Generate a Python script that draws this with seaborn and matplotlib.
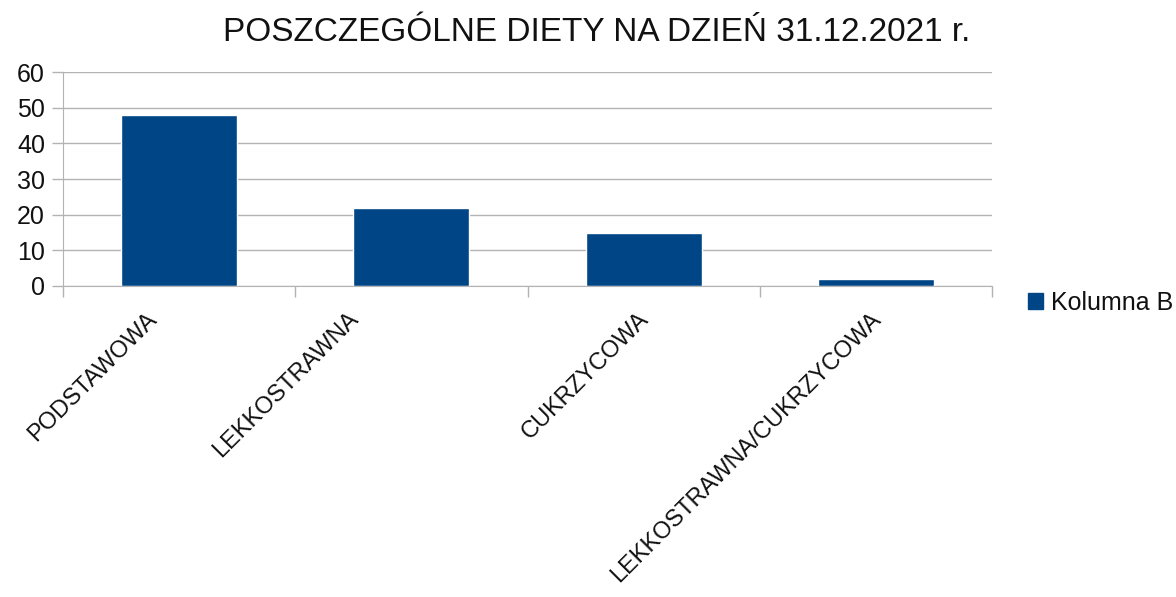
import matplotlib
matplotlib.use("Agg")
import matplotlib.pyplot as plt
import matplotlib.patches as mpatches
import matplotlib.transforms as mtransforms
import seaborn as sns
import pandas as pd

# chart data
categories = ["PODSTAWOWA", "LEKKOSTRAWNA", "CUKRZYCOWA", "LEKKOSTRAWNA/CUKRZYCOWA"]
values = [48, 22, 15, 2]
series_name = "Kolumna B"
title = "POSZCZEGÓLNE DIETY NA DZIEŃ 31.12.2021 r."

bar_color = "#004586"
grid_color = "#b3b3b3"
text_color = "#111111"

sns.set_style("white")
plt.rcParams['font.family'] = ['Liberation Sans', 'DejaVu Sans']

df = pd.DataFrame({"dieta": categories, "liczba": values})

fig = plt.figure(figsize=(11.76, 5.97), dpi=100)
ax = fig.add_axes([0.0536, 0.521, 0.79, 0.358])

sns.barplot(data=df, x="dieta", y="liczba", color=bar_color, width=0.5,
            saturation=1, ax=ax)

ax.set_xlim(-0.5, len(categories) - 0.5)
ax.set_ylim(0, 60)
ax.set_yticks(range(0, 61, 10))
ax.yaxis.grid(True, color=grid_color, linewidth=1)
ax.set_axisbelow(True)
ax.set_xlabel("")
ax.set_ylabel("")

for side in ["top", "right"]:
    ax.spines[side].set_visible(False)
ax.spines["left"].set_color(grid_color)
ax.spines["bottom"].set_color(grid_color)

# category boundary ticks on the x axis
ax.set_xticks([i - 0.5 for i in range(len(categories) + 1)], minor=True)
ax.tick_params(axis="x", which="minor", bottom=True, length=8, color=grid_color, width=1)
ax.tick_params(axis="x", which="major", bottom=True, length=0, pad=16)
ax.tick_params(axis="y", left=True, length=8, color=grid_color, width=1,
               labelsize=18, pad=5, labelcolor=text_color)
ax.set_xticks(range(len(categories)))
ax.set_xticklabels(categories, rotation=45, ha="right", rotation_mode="anchor",
                   fontsize=17, color=text_color)

# nudge labels sideways the way the original places them
label_shift_px = [-33, -64, -6, -6]
for lab, dx in zip(ax.get_xticklabels(), label_shift_px):
    lab.set_transform(lab.get_transform() +
                      mtransforms.ScaledTranslation(dx / 100, 0, fig.dpi_scale_trans))

fig.suptitle(title, fontsize=24, x=0.507, y=0.972, color=text_color)

handle = mpatches.Patch(color=bar_color, label=series_name)
ax.legend(handles=[handle], loc="center left", bbox_to_anchor=(1.028, -0.08),
          frameon=False, fontsize=18, handlelength=0.6, handleheight=0.6,
          handletextpad=0.3, borderaxespad=0, labelcolor=text_color)

fig.savefig("out.png", dpi=100)
